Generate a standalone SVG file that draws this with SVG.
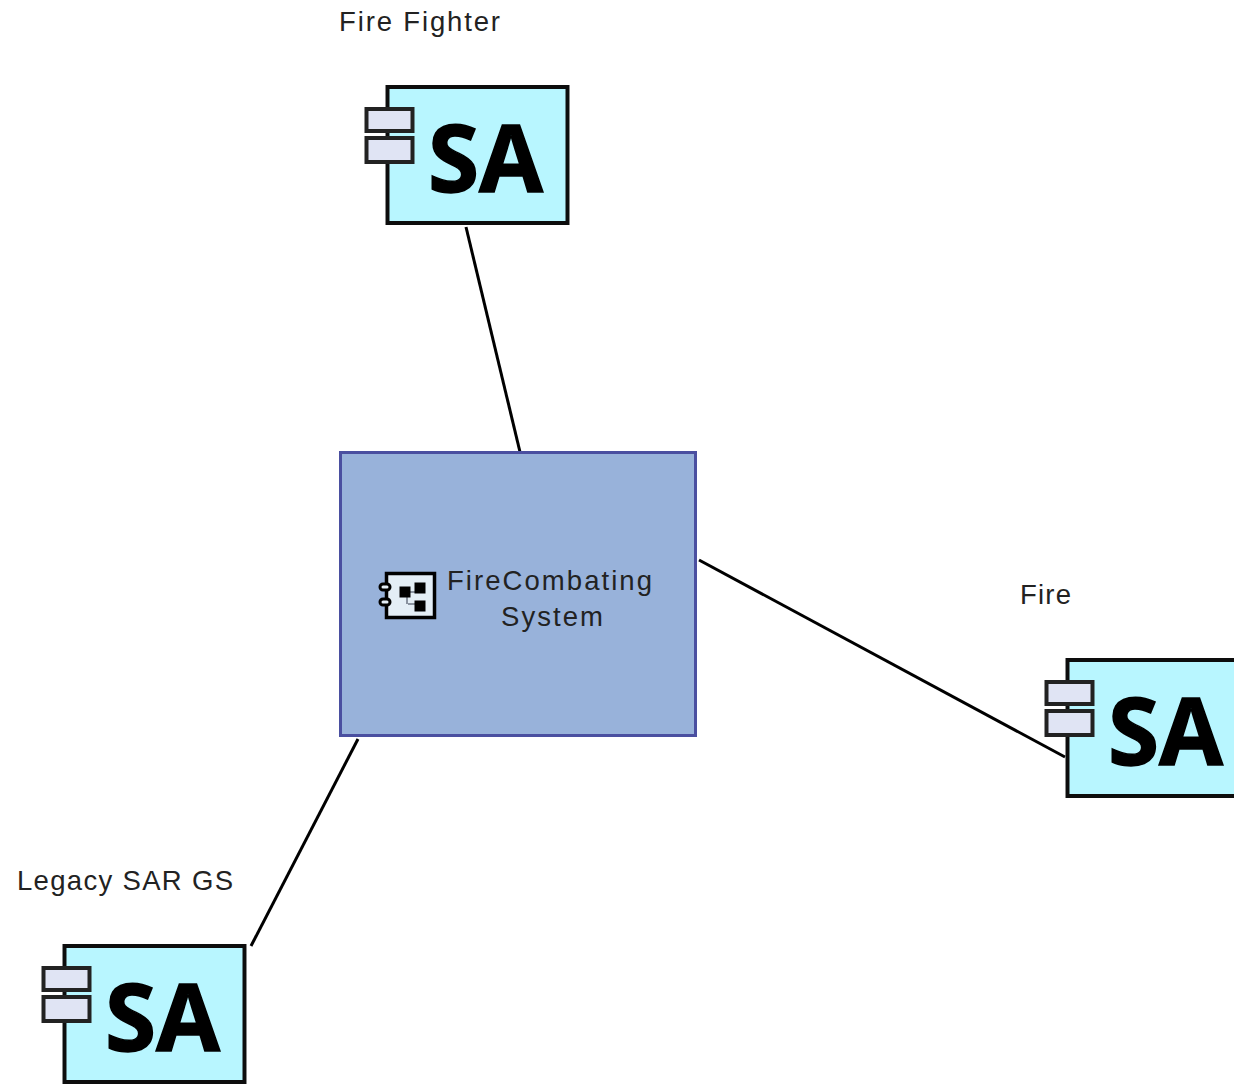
<svg xmlns="http://www.w3.org/2000/svg" width="1234" height="1084" viewBox="0 0 1234 1084">
<style>
.lbl{font-family:"Liberation Sans",Arial,sans-serif;font-size:27.500px;fill:#222}
.body{fill:#b8f6ff;stroke:#111;stroke-width:4}
.port{fill:#e0e4f4;stroke:#222;stroke-width:4}
.sa{font-family:"Open Sans","Liberation Sans",sans-serif;font-weight:700;font-size:94px;fill:#000;stroke:#000;stroke-width:1.500}
.conn{stroke:#000;stroke-width:3;fill:none}
.soft{filter:url(#soft)}
</style>
<defs>
<filter id="soft" x="-5%" y="-5%" width="110%" height="110%"><feGaussianBlur stdDeviation="0.7"/></filter>
<g id="sa" class="soft">
<rect class="body" x="22.500" y="2" width="180" height="136"/>
<rect class="port" x="1.500" y="24" width="46" height="22"/>
<rect class="port" x="1.500" y="53" width="46" height="24"/>
<text class="sa" x="63" y="107" textLength="115" lengthAdjust="spacingAndGlyphs">SA</text>
</g>
</defs>
<g id="connectors">
<line class="conn" x1="466" y1="227" x2="520" y2="452"/>
<line class="conn" x1="699" y1="560" x2="1065" y2="757"/>
<line class="conn" x1="358" y1="739" x2="251" y2="946"/>
</g>
<g id="node-fire-fighter">
<text class="lbl" x="339" y="31" textLength="161">Fire Fighter</text>
<use href="#sa" x="365" y="85"/>
</g>
<g id="node-fire">
<text class="lbl" x="1020" y="604" textLength="51">Fire</text>
<use href="#sa" x="1045" y="658"/>
</g>
<g id="node-legacy">
<text class="lbl" x="17" y="890" textLength="216">Legacy SAR GS</text>
<use href="#sa" x="42" y="944"/>
</g>
<g id="node-system">
<rect x="340.500" y="452.500" width="355" height="283" fill="#98b2da" stroke="#4a4fa0" stroke-width="3"/>
<g class="soft">
<rect x="386.500" y="573.500" width="48" height="44" fill="#e4eef6" stroke="#000" stroke-width="3.500"/>
<rect x="380" y="584" width="10" height="6" rx="3" fill="#e4eef6" stroke="#000" stroke-width="3"/>
<rect x="380" y="599" width="10" height="6" rx="3" fill="#e4eef6" stroke="#000" stroke-width="3"/>
<path d="M405 592H420M408 604H420M407 597V604" stroke="#8a93a0" stroke-width="2" fill="none"/>
<rect x="399.500" y="586.500" width="11" height="11" fill="#000"/>
<rect x="414.500" y="582.500" width="11" height="11" fill="#000"/>
<rect x="414.500" y="600.500" width="11" height="11" fill="#000"/>
</g>
<text class="lbl" x="447" y="590" textLength="205">FireCombating</text>
<text class="lbl" x="501" y="626" textLength="102">System</text>
</g>
</svg>
